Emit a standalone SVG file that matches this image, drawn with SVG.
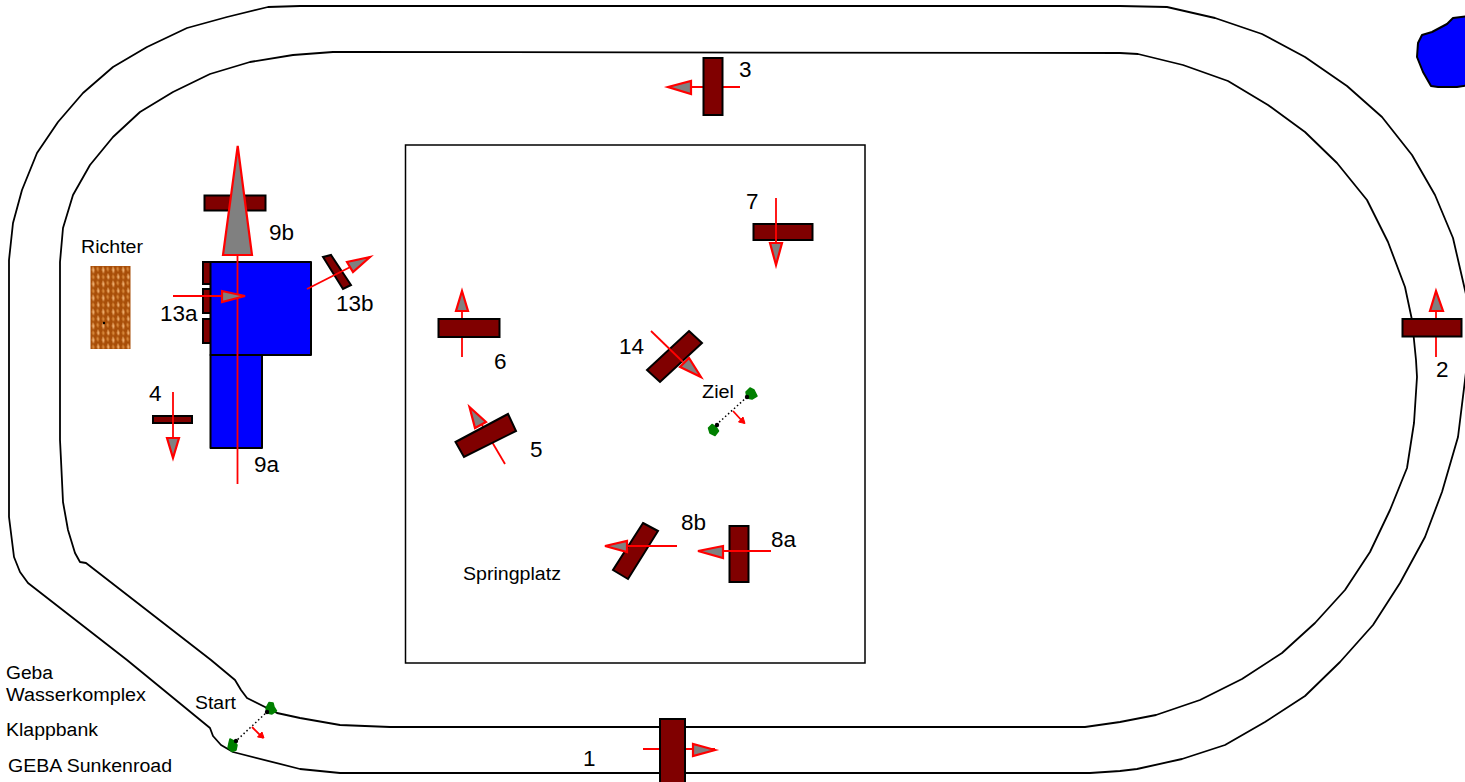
<svg xmlns="http://www.w3.org/2000/svg" width="1465" height="782" viewBox="0 0 1465 782">
<defs>
<pattern id="weave" x="90.500" y="266" width="10" height="14" patternUnits="userSpaceOnUse"><rect width="10" height="14" fill="#a84e08"/><path d="M2.500 0L4 4L3 8L1.500 4Z M7.500 7L9 11L8 14L6.500 11Z" fill="#f0b070"/><path d="M7 0L8.500 3L7.500 6L6 3Z M2.500 8L4 11L3 14L1.500 11Z" fill="#d98a3c"/></pattern>
</defs>
<style>
.t{font-family:"Liberation Sans",Arial,sans-serif;font-size:22.500px;fill:#000}
.s{font-family:"Liberation Sans",Arial,sans-serif;font-size:18px;fill:#000}
.o{fill:#800000;stroke:#000;stroke-width:2}
.l{fill:none;stroke:#f00;stroke-width:1.800}
.h{fill:#808080;stroke:#f00;stroke-width:2.200}
.track{fill:none;stroke:#000;stroke-width:1.800;stroke-linejoin:round}
.b{fill:#00f;stroke:#000;stroke-width:2;stroke-linejoin:round}
.g{fill:#008000;stroke:#008000;stroke-width:1.500;stroke-linejoin:round}
.d{stroke:#000;stroke-width:1.500;stroke-dasharray:1.500 2.500;fill:none}
</style>
<path id="pond" class="b" d="M1470 16L1453 18L1447 24L1432 32L1422 35L1418 43L1417 57L1423 72L1431 86L1438 87L1457 87L1470 85Z"/>
<g id="track">
<path class="track" d="M1470 312L1465 290L1453 238L1435 195L1412 155L1382 117L1347 86L1305 57L1262 34L1215 18L1167 7L1120 6L360 6L300 6L268 7L227 17L187 28L147 47L113 67L83 93L58 122L37 153L22 190L13 223L9 260L9 517L14 557L20 572L28 583L127 660L210 728L213 736L221 745L233 752L300 769L340 773L1090 773L1120 771L1137 769L1182 759L1225 745L1265 722L1305 696L1340 662L1373 625L1400 583L1425 537L1442 492L1458 437L1465 380L1470 340"/>
<path class="track" d="M1120 53L1138 54L1183 65L1228 81L1268 105L1305 132L1337 163L1367 200L1388 242L1405 287L1412 320L1416 360L1417 377L1414 423L1407 468L1390 510L1370 552L1345 590L1315 623L1282 653L1242 679L1200 700L1156 715L1120 722L1085 727L390 727L340 725L300 718L277 713L247 698L241 690L235 680L211 660L86 563L80 562L75 553L68 530L63 502L61 460L60 440L60 262L63 228L73 195L90 165L113 137L140 112L173 92L210 74L250 62L293 55L333 52L360 52L1120 53"/>
</g>
<g id="springplatz"><rect x="405.500" y="145" width="459.500" height="518" fill="none" stroke="#000" stroke-width="1.500"/><text class="s" x="463" y="580" textLength="98" lengthAdjust="spacingAndGlyphs">Springplatz</text></g>
<g id="richter"><rect x="90.500" y="266" width="40" height="83" fill="url(#weave)"/><circle cx="104" cy="323" r="1.200"/><text class="s" x="81" y="253" textLength="62" lengthAdjust="spacingAndGlyphs">Richter</text></g>
<g id="water">
<rect class="o" x="203" y="262" width="8" height="22"/><rect class="o" x="203" y="289" width="8" height="24"/><rect class="o" x="203" y="319" width="8" height="24"/>
<rect class="b" x="210.500" y="262" width="100.500" height="93"/><rect class="b" x="210.500" y="355" width="51.500" height="93"/>
</g>
<g id="o9"><rect class="o" x="204.500" y="195.500" width="61" height="15"/><path class="l" d="M237.500 255V484"/><path class="h" d="M237.700 146L223 255L252 255Z"/><text class="t" x="269" y="240">9b</text><text class="t" x="254" y="472">9a</text></g>
<g id="o13a"><path class="l" d="M173 296L245 296"/><path class="h" d="M245 296L222 291L222 302Z"/><text class="t" x="160" y="321">13a</text></g>
<g id="o13b"><path class="o" d="M323 257L331 255L351 285L343 289Z"/><path class="l" d="M307 289L370 257"/><path class="h" d="M370 257L347 262L353 272Z"/><text class="t" x="336" y="311">13b</text></g>
<g id="o1"><path class="l" d="M643 749L715 749"/><rect class="o" x="660" y="719" width="25" height="64"/><path class="h" d="M715 750L693 744L693 756Z"/><text class="t" x="583" y="766">1</text></g>
<g id="o2"><path class="l" d="M1436 357V311"/><rect class="o" x="1402.500" y="319" width="59" height="17.500"/><path class="h" d="M1436 291L1430 311L1443 311Z"/><text class="t" x="1436" y="377">2</text></g>
<g id="o3"><path class="l" d="M740 87L690 87"/><rect class="o" x="703.500" y="58" width="19" height="57"/><path class="h" d="M668 87L691 81L691 94Z"/><text class="t" x="739" y="77">3</text></g>
<g id="o4"><rect class="o" x="153" y="416" width="39" height="7"/><path class="l" d="M173 392V438"/><path class="h" d="M173 458L167 438L179 438Z"/><text class="t" x="149" y="401">4</text></g>
<g id="o5"><path class="l" d="M505 464L482 425"/><path class="o" d="M455.500 442L508 414L516 431L464 457Z"/><path class="h" d="M469.500 407L475 428L486 422Z"/><text class="t" x="530" y="457">5</text></g>
<g id="o6"><path class="l" d="M462 357V311"/><rect class="o" x="438.500" y="319" width="61" height="18"/><path class="h" d="M462 291L456 311L468 311Z"/><text class="t" x="494" y="369">6</text></g>
<g id="o7"><rect class="o" x="753.500" y="224" width="59" height="16"/><path class="l" d="M776 198V244"/><path class="h" d="M776 265L770 243L782 243Z"/><text class="t" x="746" y="209">7</text></g>
<g id="o8a"><rect class="o" x="729.500" y="526" width="19" height="56"/><path class="l" d="M771 551L722 551"/><path class="h" d="M698 551L723 546L723 558Z"/><text class="t" x="771" y="547">8a</text></g>
<g id="o8b"><path class="o" d="M643 523L658 531L628 579L613 570Z"/><path class="l" d="M677 546L628 546"/><path class="h" d="M605 546L627 541L627 552Z"/><text class="t" x="681" y="530">8b</text></g>
<g id="o14"><path class="o" d="M689 331L702 343L660 382L647 370Z"/><path class="l" d="M651 331L683 362"/><path class="h" d="M701 377L689 358L680 367Z"/><text class="t" x="619" y="354">14</text></g>
<g id="start">
<path class="d" d="M268 711L236 741"/><path class="l" d="M252 727L263 738"/><path fill="#f00" stroke="#f00" stroke-width="1" d="M257.500 737L264 738L262 732Z"/>
<path class="g" d="M269 702.500L273 703L274 707L276.500 711L272 714L267 713L266 708Z"/><path class="g" d="M230 739L234 741L237 745L236 750L232 751.500L228 748L229 743Z"/>
<circle cx="267" cy="712" r="2.200"/><circle cx="236" cy="741" r="2.200"/>
<text class="s" x="195" y="709" textLength="41" lengthAdjust="spacingAndGlyphs">Start</text>
</g>
<g id="ziel">
<path class="d" d="M747 397L716 425"/><path class="l" d="M733 411L744 423"/><path fill="#f00" stroke="#f00" stroke-width="1" d="M738.500 422L745 423.500L743 417Z"/>
<path class="g" d="M750 388L754 390L757 396L752 399L747 398L746 392Z"/><path class="g" d="M712 424.500L716 427L718.500 431L715 435.500L710 433L708.500 428Z"/>
<circle cx="747" cy="397" r="2.200"/><circle cx="717" cy="425" r="2.200"/>
<text class="s" x="702" y="398" textLength="32" lengthAdjust="spacingAndGlyphs">Ziel</text>
</g>
<g id="labels">
<text class="s" x="6" y="679" textLength="47" lengthAdjust="spacingAndGlyphs">Geba</text><text class="s" x="6" y="701" textLength="140" lengthAdjust="spacingAndGlyphs">Wasserkomplex</text><text class="s" x="6" y="736" textLength="92" lengthAdjust="spacingAndGlyphs">Klappbank</text><text class="s" x="8" y="772" textLength="164" lengthAdjust="spacingAndGlyphs">GEBA Sunkenroad</text>
</g>
</svg>
